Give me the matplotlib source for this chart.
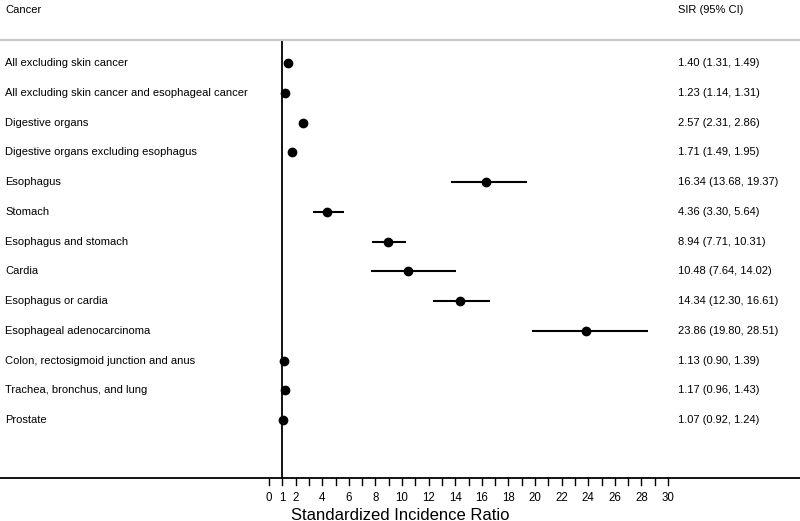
import matplotlib
matplotlib.use("Agg")
import matplotlib.pyplot as plt

plt.rcParams['font.family'] = ['Liberation Sans', 'DejaVu Sans']

categories = [
    "All excluding skin cancer",
    "All excluding skin cancer and esophageal cancer",
    "Digestive organs",
    "Digestive organs excluding esophagus",
    "Esophagus",
    "Stomach",
    "Esophagus and stomach",
    "Cardia",
    "Esophagus or cardia",
    "Esophageal adenocarcinoma",
    "Colon, rectosigmoid junction and anus",
    "Trachea, bronchus, and lung",
    "Prostate",
]
sir = [1.40, 1.23, 2.57, 1.71, 16.34, 4.36, 8.94, 10.48, 14.34, 23.86, 1.13, 1.17, 1.07]
lower = [1.31, 1.14, 2.31, 1.49, 13.68, 3.30, 7.71, 7.64, 12.30, 19.80, 0.90, 0.96, 0.92]
upper = [1.49, 1.31, 2.86, 1.95, 19.37, 5.64, 10.31, 14.02, 16.61, 28.51, 1.39, 1.43, 1.24]
tick_labels = [0, 1] + list(range(2, 31, 2))

fig = plt.figure(figsize=(8, 5.21), dpi=100)
ax = fig.add_axes([0, 0, 1, 1])
ax.axis('off')
ax.set_xlim(-20.23, 39.92)
ax.set_ylim(15.395, -2.118)

ys = list(range(len(categories)))
for y, s, lo, hi in zip(ys, sir, lower, upper):
    ax.plot([lo, hi], [y, y], color='black', lw=1.5, solid_capstyle='butt', zorder=2)
ax.plot(sir, ys, 'o', color='black', ms=6, zorder=3)

# reference line at 1
ax.plot([1, 1], [-0.773, 13.95], color='black', lw=1.3, zorder=1)
# header separator
ax.axhline(-0.773, color='#c8c8c8', lw=1.5)
# x axis line
ax.axhline(13.95, color='black', lw=1.3)
# ticks
for t in range(0, 31):
    ax.plot([t, t], [13.95, 14.2], color='black', lw=1.0)
for t in tick_labels:
    ax.text(t, 14.62, str(t), ha='center', va='center', fontsize=8.3)
ax.text(0.5, 1.5/521, "Standardized Incidence Ratio", transform=ax.transAxes,
        ha='center', va='baseline', fontsize=12)

trans_lab = matplotlib.transforms.blended_transform_factory(ax.transAxes, ax.transData)
for y, c, s, lo, hi in zip(ys, categories, sir, lower, upper):
    ax.text(5/800, y, c, transform=trans_lab, ha='left', va='center', fontsize=8)
    ax.text(678/800, y, f"{s:.2f} ({lo:.2f}, {hi:.2f})", transform=trans_lab,
            ha='left', va='center', fontsize=8)

ax.text(5/800, 1 - 10/521, "Cancer", transform=ax.transAxes, ha='left', va='center', fontsize=8)
ax.text(678/800, 1 - 10/521, "SIR (95% CI)", transform=ax.transAxes, ha='left', va='center', fontsize=8)

fig.savefig("out.png", dpi=100)
